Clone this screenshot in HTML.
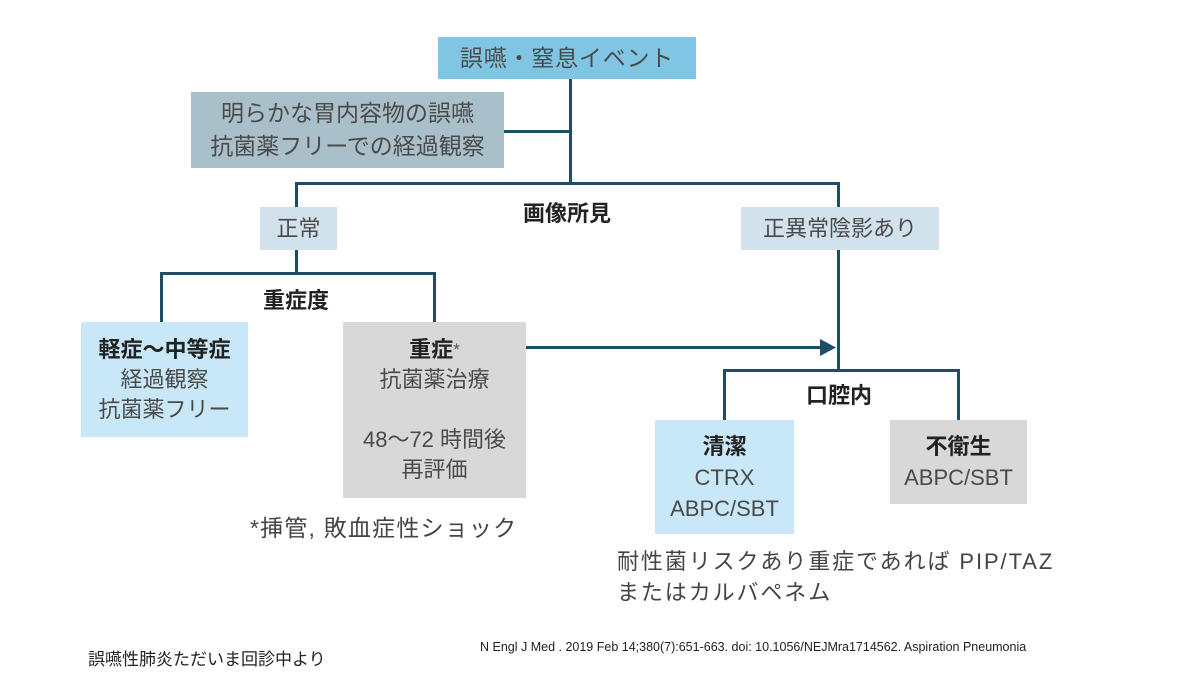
<!DOCTYPE html>
<html><head><meta charset="utf-8"><style>
body{margin:0;width:1200px;height:675px;background:#fff;position:relative;overflow:hidden;font-family:"Liberation Sans","Noto Sans CJK JP",sans-serif;color:#444}
.b{position:absolute;display:flex;flex-direction:column;align-items:center;justify-content:center;text-align:center;font-size:22px;line-height:31px;color:#4a4a4a}
.l{position:absolute;background:#1e4d68}
.t{position:absolute;font-size:22px;white-space:nowrap}
.bold{font-weight:bold;color:#222}
</style></head><body>
<div class="l" style="left:569px;top:79px;width:3px;height:106px"></div>
<div class="l" style="left:504px;top:130px;width:66px;height:3px"></div>
<div class="l" style="left:295px;top:182px;width:545px;height:3px"></div>
<div class="l" style="left:295px;top:182px;width:3px;height:26px"></div>
<div class="l" style="left:837px;top:182px;width:3px;height:26px"></div>
<div class="l" style="left:295px;top:250px;width:3px;height:24px"></div>
<div class="l" style="left:160px;top:272px;width:276px;height:3px"></div>
<div class="l" style="left:160px;top:272px;width:3px;height:50px"></div>
<div class="l" style="left:433px;top:272px;width:3px;height:50px"></div>
<div class="l" style="left:837px;top:250px;width:3px;height:121px"></div>
<div class="l" style="left:526px;top:346px;width:298px;height:3px"></div>
<svg style="position:absolute;left:820px;top:339px" width="18" height="17"><polygon points="0,0 16,8.5 0,17" fill="#1e4d68"/></svg>
<div class="l" style="left:723px;top:369px;width:237px;height:3px"></div>
<div class="l" style="left:723px;top:369px;width:3px;height:51px"></div>
<div class="l" style="left:957px;top:369px;width:3px;height:51px"></div>
<div class="b" style="left:438px;top:37px;width:258px;height:42px;background:#80c5e3;font-size:23px;letter-spacing:0.8px">誤嚥・窒息イベント</div>
<div class="b" style="left:191px;top:92px;width:313px;height:76px;background:#a9bfca;font-size:23px;line-height:33px">明らかな胃内容物の誤嚥<br>抗菌薬フリーでの経過観察</div>
<div class="b" style="left:260px;top:207px;width:77px;height:43px;background:#d2e2ec">正常</div>
<div class="b" style="left:741px;top:207px;width:198px;height:43px;background:#d2e2ec">正異常陰影あり</div>
<div class="b" style="left:81px;top:322px;width:167px;height:115px;background:#c8e7f7;line-height:30px"><span class="bold">軽症～中等症</span>経過観察<br>抗菌薬フリー</div>
<div class="b" style="left:343px;top:322px;width:183px;height:176px;background:#d8d8d8;line-height:30px"><span class="bold">重症<span style="font-weight:normal;color:#555;font-size:17px;vertical-align:top">*</span></span>抗菌薬治療<br><br>48～72 時間後<br>再評価</div>
<div class="b" style="left:655px;top:420px;width:139px;height:114px;background:#c8e7f7;line-height:31px"><span class="bold">清潔</span>CTRX<br>ABPC/SBT</div>
<div class="b" style="left:890px;top:420px;width:137px;height:84px;background:#d8d8d8;line-height:31px"><span class="bold">不衛生</span>ABPC/SBT</div>
<div class="t bold" style="left:523px;top:196px">画像所見</div>
<div class="t bold" style="left:263px;top:283px">重症度</div>
<div class="t bold" style="left:806px;top:378px">口腔内</div>
<div class="t" style="left:250px;top:509px;font-size:23px;letter-spacing:1.2px">*挿管, 敗血症性ショック</div>
<div class="t" style="left:617px;top:546px;line-height:31px;letter-spacing:1.9px">耐性菌リスクあり重症であれば PIP/TAZ<br>またはカルバペネム</div>
<div class="t" style="left:88px;top:645px;font-size:17px;color:#222">誤嚥性肺炎ただいま回診中より</div>
<div class="t" style="left:480px;top:640px;font-size:12.5px;color:#222">N Engl J Med . 2019 Feb 14;380(7):651-663. doi: 10.1056/NEJMra1714562. Aspiration Pneumonia</div>
</body></html>
